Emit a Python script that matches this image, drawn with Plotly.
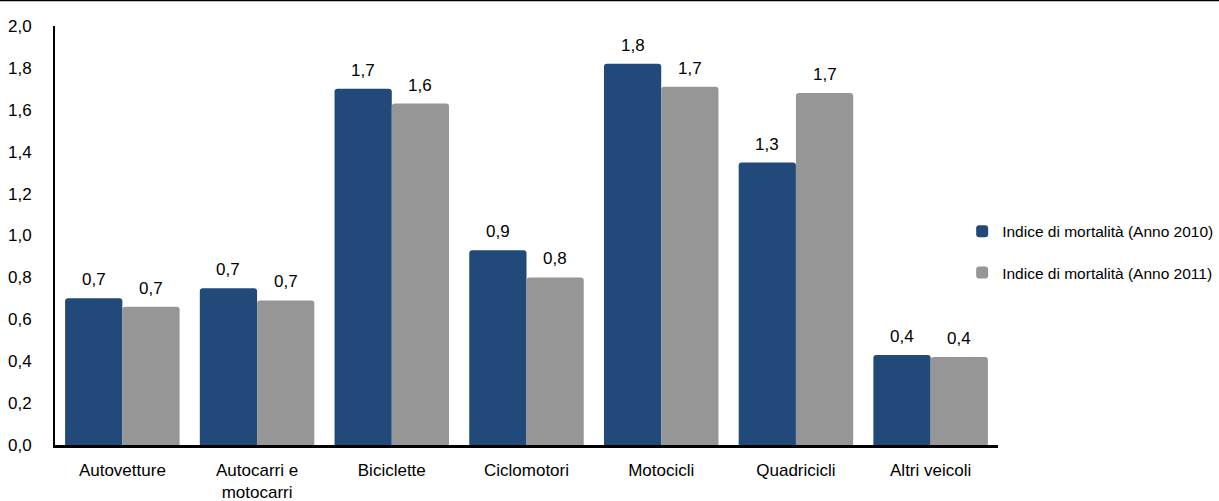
import plotly.graph_objects as go

# Indice di mortalità per tipo di veicolo, anni 2010 e 2011
categories = ["Autovetture", "Autocarri e<br>motocarri", "Biciclette", "Ciclomotori",
              "Motocicli", "Quadricicli", "Altri veicoli"]
mort_2010 = [0.70, 0.748, 1.70, 0.93, 1.82, 1.348, 0.43]
mort_2011 = [0.66, 0.69, 1.63, 0.80, 1.71, 1.68, 0.42]
series_names = ["Indice di mortalità (Anno 2010)", "Indice di mortalità (Anno 2011)"]
y_ticks = [0.0, 0.2, 0.4, 0.6, 0.8, 1.0, 1.2, 1.4, 1.6, 1.8, 2.0]

BLUE = "#214A7B"
GREY = "#969696"
FONT = "Liberation Sans, Arial, sans-serif"
FS = 17

fig = go.Figure()
for name, vals, col, grp in [(series_names[0], mort_2010, BLUE, "a"),
                             (series_names[1], mort_2011, GREY, "b")]:
    fig.add_trace(go.Bar(
        x=categories, y=vals, name=name, legendgroup=grp,
        marker=dict(color=col, line=dict(width=0), cornerradius=3),
    ))

# value labels above each bar, one decimal with comma
bar_gap = 0.15
half = (1 - bar_gap) / 4
annotations = []
for vals, off in [(mort_2010, -half), (mort_2011, half)]:
    for i, v in enumerate(vals):
        annotations.append(dict(
            x=i + off, y=v, xref="x", yref="y",
            text=f"{v:.1f}".replace(".", ","), showarrow=False,
            yanchor="bottom", yshift=7,
            font=dict(family=FONT, size=FS, color="#000000"),
        ))

plot_h = 501 - 26 - 56
fig.update_layout(
    width=1219, height=501,
    margin=dict(l=55, r=221, t=26, b=56, autoexpand=False),
    paper_bgcolor="white", plot_bgcolor="white",
    barmode="group", bargap=bar_gap, bargroupgap=0,
    separators=",.",
    font=dict(family=FONT, size=FS, color="#000000"),
    showlegend=True,
    legend=dict(
        x=0.962, xanchor="left", y=0.46, yanchor="middle",
        traceorder="grouped", tracegroupgap=18,
        font=dict(family=FONT, size=15.5, color="#000000"),
        itemwidth=30, bgcolor="rgba(0,0,0,0)",
    ),
    annotations=annotations,
    shapes=[dict(type="line", xref="paper", yref="paper",
                 x0=-55 / 943, x1=(1219 - 55) / 943,
                 y0=1 + 25.5 / plot_h, y1=1 + 25.5 / plot_h,
                 line=dict(color="#000000", width=1.5))],
)
fig.update_yaxes(
    range=[0, 2.0], tickvals=y_ticks, tickformat=".1f",
    showgrid=False, zeroline=False,
    showline=True, linecolor="#000000", linewidth=2,
    ticks="", ticklabelstandoff=18,
    tickfont=dict(family=FONT, size=FS, color="#000000"),
)
fig.update_xaxes(
    showgrid=False, showline=True, linecolor="#000000", linewidth=2.5,
    ticks="", ticklabelstandoff=8,
    tickfont=dict(family=FONT, size=FS, color="#000000"),
)

fig.write_html("out.html")
